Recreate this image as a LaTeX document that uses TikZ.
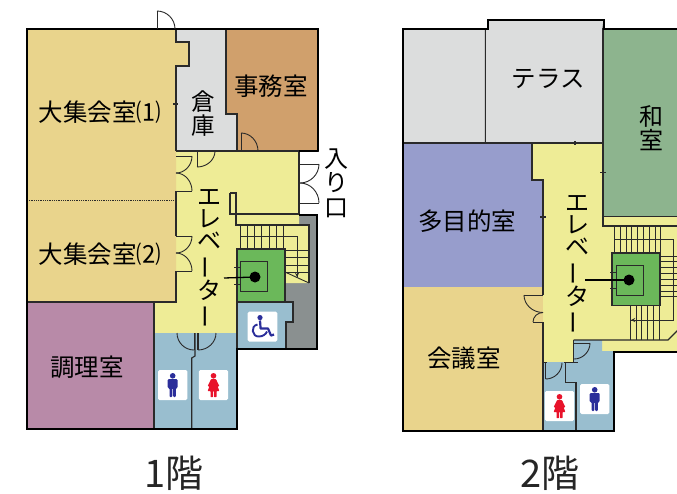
\documentclass[tikz,border=0pt]{standalone}
\usepackage{fontspec}
\setmainfont{Noto Sans CJK JP}
\usetikzlibrary{calc}
\definecolor{hallc}{HTML}{E9D48C}
\definecolor{storec}{HTML}{DCDDDD}
\definecolor{officec}{HTML}{D0A06C}
\definecolor{yellowc}{HTML}{EEEC96}
\definecolor{kitchenc}{HTML}{B88AA8}
\definecolor{bluec}{HTML}{99BECF}
\definecolor{darkc}{HTML}{8A9090}
\definecolor{greenc}{HTML}{6BB85A}
\definecolor{washitsuc}{HTML}{8DB48E}
\definecolor{purplec}{HTML}{979DCC}
\definecolor{manc}{HTML}{2B2E9A}
\definecolor{womanc}{HTML}{E8132B}
\definecolor{inkc}{HTML}{2A2A2A}
\tikzset{
  room/.style={draw=inkc,line width=1.1pt},
  wall/.style={draw=inkc,line width=1.1pt},
  stairline/.style={draw=inkc,line width=.9pt},
  outer/.style={draw=black,line width=2pt,line join=miter},
  doorline/.style={draw=inkc,line width=.9pt},
  roomlabel/.style={inner sep=0pt,text=black,font=\fontsize{24.5}{24.5}\selectfont},
  vlabel/.style={inner sep=0pt,text=black,align=center,font=\fontsize{24}{22.3}\selectfont},
  floorlabel/.style={inner sep=0pt,text=black!85,font=\fontsize{38}{38}\selectfont},
  iconbox/.style={fill=white,rounded corners=1.5pt},
}
\newcommand\qarc[6]{\draw[doorline] (#1,#2) .. controls ($(#1,#2)!.55!(#5,#6)$) and ($(#3,#4)!.55!(#5,#6)$) .. (#3,#4);}
\newcommand\manicon[2]{%
  \fill[iconbox] (#1-14.7,#2-15) rectangle (#1+14.7,#2+15);
  \fill[manc] (#1,#2-9.2) circle (2.8);
  \fill[manc,rounded corners=1pt] (#1-5,#2-5.8) -- (#1+5,#2-5.8) -- (#1+5,#2+3) -- (#1+3.2,#2+3) -- (#1+3.2,#2+12) -- (#1+.4,#2+12) -- (#1+.4,#2+3) -- (#1-.4,#2+3) -- (#1-.4,#2+12) -- (#1-3.2,#2+12) -- (#1-3.2,#2+3) -- (#1-5,#2+3) -- cycle;}
\newcommand\womanicon[2]{%
  \fill[iconbox] (#1-14.7,#2-15) rectangle (#1+14.7,#2+15);
  \fill[womanc] (#1,#2-9.2) circle (2.8);
  \fill[womanc,rounded corners=.5pt] (#1-2.5,#2-5.8) -- (#1+2.5,#2-5.8) -- (#1+5.8,#2+1) -- (#1+4.2,#2+1.5) -- (#1+5.8,#2+6) -- (#1+3,#2+6) -- (#1+3,#2+12) -- (#1+.5,#2+12) -- (#1+.5,#2+6) -- (#1-.5,#2+6) -- (#1-.5,#2+12) -- (#1-3,#2+12) -- (#1-3,#2+6) -- (#1-5.8,#2+6) -- (#1-4.2,#2+1.5) -- (#1-5.8,#2+1) -- cycle;}
\begin{document}
\begin{tikzpicture}[x=1pt,y=-1pt]
\useasboundingbox (0,0) rectangle (677,493);
\fill[white] (0,0) rectangle (677,493);
%% ---------- 1st floor ----------
\fill[darkc] (285,215) rectangle (317,349);
\fill[yellowc] (176,151) -- (299,151) -- (299,225) -- (309,225) -- (309,283) -- (285,283) -- (285,302) -- (237,302) -- (237,333) -- (154,333) -- (154,303) -- (176,303) -- cycle;
\path[room,fill=storec] (176,29) -- (226,29) -- (226,114) -- (237,114) -- (237,151) -- (176,151) -- cycle;
\path[room,fill=officec] (226,29) -- (318,29) -- (318,151) -- (237,151) -- (237,114) -- (226,114) -- cycle;
\path[fill=hallc] (27,29) -- (176,29) -- (176,42) -- (189,42) -- (189,66) -- (176,66) -- (176,302) -- (27,302) -- cycle;
\draw[wall] (176,29) -- (176,42) -- (189,42) -- (189,66) -- (176,66) -- (176,151);
\draw[wall] (176,191) -- (176,236) (176,271) -- (176,302) -- (27,302);
\draw[draw=inkc,line width=.8pt,densely dotted] (27,200) -- (178,200);
\draw[wall] (173,104) -- (178,104);
\path[room,fill=kitchenc] (27,302) -- (154,302) -- (154,429) -- (27,429) -- cycle;
\path[fill=bluec] (155,333) rectangle (237,429);
\path[room,fill=bluec] (237,302) -- (293,302) -- (293,322) -- (286,322) -- (286,349) -- (237,349) -- cycle;
\draw[wall] (154,302) -- (154,333);
\draw[wall] (237,333) -- (237,349);
\draw[wall] (195,333) -- (195,356) -- (191.7,358) -- (191.7,429);
\draw[wall] (198,333) -- (198,350);
\draw[wall] (176,151) -- (299,151) -- (299,215);
\draw[wall] (230,193) -- (236,193) -- (236,225) -- (309,225) -- (309,283);
\draw[wall] (230,193) -- (230,214) -- (299,214);
% stairs
\foreach \sx in {240,247.3,254.7,261.7,269,276,283.3} \draw[stairline] (\sx,225) -- (\sx,249);
\draw[stairline] (240,236.7) -- (297,236.7) -- (297,277);
\foreach \sy in {250,257,265,272} \draw[stairline] (285,\sy) -- (309,\sy);
\draw[stairline] (285,272) -- (309,283);
\draw[stairline,-stealth] (297,272) -- (297,277);
% elevator
\path[room,fill=greenc] (237,249) rectangle (285,302);
\draw[stairline] (240,261.7) rectangle (267.7,291.7);
\draw[stairline] (234,267) -- (240,267) (234,284) -- (240,284);
\fill[black] (255,277) circle (5.5);
\draw[black,line width=1.3pt] (224,278) -- (255,277);
% outer wall
\draw[outer] (318,151) -- (318,29) -- (27,29) -- (27,429) -- (237,429) -- (237,349) -- (317,349) -- (317,215) -- (299,215);
\draw[outer] (318,151) -- (299,151);
% doors
\draw[doorline] (157,29) -- (157,11); \qarc{157}{11}{175}{29}{175}{11}
\draw[doorline] (197,151) -- (197,167); \qarc{197}{167}{215}{151}{215}{167}
\draw[doorline] (176,156) -- (192,156); \qarc{192}{156}{176}{173}{192}{173}
\draw[doorline] (176,191) -- (192,191); \qarc{192}{191}{176}{173}{192}{173}
\draw[doorline] (176,236) -- (192,236); \qarc{192}{236}{176}{253}{192}{253}
\draw[doorline] (176,271) -- (192,271); \qarc{192}{271}{176}{253}{192}{253}
\draw[doorline] (299,164) -- (319,164); \qarc{319}{164}{300}{183}{319}{183}
\draw[doorline] (299,203) -- (319,203); \qarc{319}{203}{300}{183}{319}{183}
\draw[doorline] (241,151) -- (241,133); \qarc{241}{133}{258}{151}{258}{133}
\draw[doorline] (194,350) -- (194,333); \qarc{194}{350}{177}{333}{177}{350}
\qarc{198}{350}{216}{333}{216}{350}
% icons
\manicon{172.7}{385}
\womanicon{213.5}{385}
\fill[iconbox] (247.6,311.7) rectangle (277.4,341.5);
\fill[manc] (260,317.6) circle (2.6);
\draw[manc,line width=2.2pt,line join=round] (260,320.5) -- (260.6,328.5) -- (268,328.5) -- (271,335.5) -- (274,334.5);
\draw[manc,line width=1.9pt] (257.5,324.5) .. controls (250,326) and (252,337) .. (259,336.5) .. controls (263,336.5) and (266,334) .. (267,331.5);
% labels
\node[roomlabel] (hall1) at (100,112) {大集会室⑴};
\node[roomlabel] (hall2) at (100,254) {大集会室⑵};
\node[roomlabel,align=center,font=\fontsize{23.5}{24}\selectfont] (store) at (203,114) {倉\\庫};
\node[roomlabel] (office) at (271,86) {事務室};
\node[roomlabel] (kitchen) at (87,367) {調理室};
\node[vlabel] (ev1) at (209,259) {エ\\レ\\ベ\\\rotatebox[origin=c]{90}{ー}\\タ\\\rotatebox[origin=c]{90}{ー}};
\node[roomlabel,align=center,font=\fontsize{24}{24.5}\selectfont] (entrance) at (336,183) {入\\り\\口};
\node[floorlabel] (f1) at (174,473) {1階};
%% ---------- 2nd floor ----------
\path[room,fill=storec] (403,29) -- (485.3,29) -- (485.3,143) -- (403,143) -- cycle;
\path[room,fill=storec] (485.3,29) -- (488,29) -- (488,20) -- (604,20) -- (603,29) -- (603,143) -- (485.3,143) -- cycle;
\path[room,fill=washitsuc] (603,29) -- (678,29) -- (678,216.5) -- (603,216.5) -- cycle;
\fill[yellowc] (532,143) -- (603,143) -- (603,216) -- (678,216) -- (678,351) -- (602,351) -- (602,340) -- (574,340) -- (574,362) -- (543,362) -- (543,180) -- (532,180) -- cycle;
\path[fill=purplec] (403,143) -- (532,143) -- (532,180) -- (543,180) -- (543,287) -- (403,287) -- cycle;
\path[fill=hallc] (403,287) rectangle (543,431);
\path[fill=bluec] (574,340) -- (602,340) -- (602,351) -- (614,351) -- (614,431) -- (543,431) -- (543,362) -- (574,362) -- cycle;
\draw[wall] (532,143) -- (603,143) -- (603,226) -- (678,226);
\draw[wall] (603,216.5) -- (678,216.5);
\draw[wall] (403,143) -- (532,143) -- (532,180) -- (543,180) -- (543,295);
\draw[wall] (543,322) -- (543,431);
\draw[wall] (573.5,340) -- (573.5,362);
\draw[wall] (564,362.7) -- (578,362.7);
\draw[wall] (543,362.7) -- (547,362.7);
\draw[wall] (565.7,362.7) -- (565.7,382.7) -- (576,382.7) -- (576,431);
\draw[wall] (573.5,340) -- (668,340) -- (678,330);
\draw[wall] (549,143) -- (553,143) (575,141) -- (575,145) (600,172.7) -- (606,172.7) (540,217) -- (546,217);
% stairs
\foreach \sx in {614.3,620,626,631.7,637.3,643.3,649.3,655,660.7} \draw[stairline] (\sx,226) -- (\sx,253);
\draw[stairline] (614.3,239.3) -- (673,239.3) -- (673,320) -- (631,320);
\draw[stairline,-stealth] (636,320) -- (631,320);
\foreach \sy in {256,261.7,267.7,273.3,279.3,285,291,296.7} \draw[stairline] (660,\sy) -- (678,\sy);
\foreach \sx in {630.7,636,641.7,647.3,653.3,659.3} \draw[stairline] (\sx,306) -- (\sx,340);
% elevator
\path[room,fill=greenc] (612,253) rectangle (660,305.7);
\draw[stairline] (616,265) rectangle (643,295);
\draw[stairline] (610,272) -- (616,272) (610,288) -- (616,288);
\fill[black] (629,280) circle (5.5);
\draw[black,line width=1.3pt] (585,280) -- (629,280);
% outer wall
\draw[outer] (678,29) -- (604,29) -- (604,20) -- (488,20) -- (488,29) -- (403,29) -- (403,431) -- (614,431) -- (614,351.5) -- (678,351.5);
% doors
\draw[doorline] (543,295) -- (524,295); \qarc{524}{295}{543}{312.5}{524}{312.5}
\draw[doorline] (543,322) -- (533,322); \qarc{533}{322}{543}{312.5}{533}{312.5}
\draw[doorline] (573.5,343) -- (590,343); \qarc{590}{343}{574}{359}{590}{359}
\draw[doorline] (545.7,362.7) -- (545.7,379); \qarc{545.7}{379}{562}{362.7}{562}{379}
% icons
\womanicon{559.5}{406}
\manicon{594.7}{399}
% labels
\node[roomlabel] (terrace) at (548,79) {テラス};
\node[roomlabel,align=center,font=\fontsize{24}{23.5}\selectfont] (washitsu) at (651,128) {和\\室};
\node[roomlabel] (multi) at (467,221) {多目的室};
\node[roomlabel] (meeting) at (464,358) {会議室};
\node[vlabel] (ev2) at (577,265) {エ\\レ\\ベ\\\rotatebox[origin=c]{90}{ー}\\タ\\\rotatebox[origin=c]{90}{ー}};
\node[floorlabel] (f2) at (550,473) {2階};
\end{tikzpicture}
\end{document}
